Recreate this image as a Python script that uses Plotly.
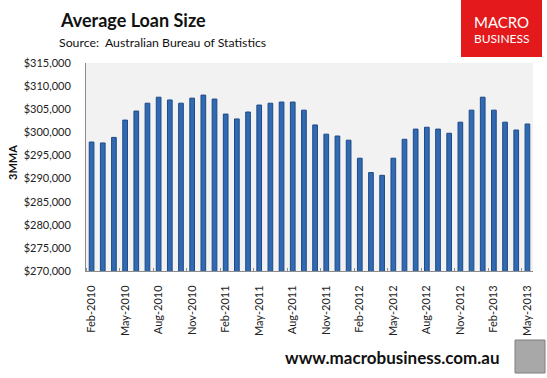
import plotly.graph_objects as go
import pandas as pd

months = [d.strftime("%b-%Y") for d in pd.date_range("2010-02-01", "2013-05-01", freq="MS")]
loan_size = [
    297900, 297700, 298900, 302650, 304600, 306300, 307600, 307000, 306300, 307400,
    308050, 307200, 303950, 302900, 304400, 305900, 306300, 306550, 306550, 304800,
    301600, 299600, 299200, 298300, 294400, 291300, 290700, 294400, 298500, 300700,
    301100, 300700, 299800, 302200, 304800, 307600, 304800, 302200, 300500, 301800,
]
y_ticks = list(range(270000, 315001, 5000))
y_tick_text = ["${:,}".format(v) for v in y_ticks]

idx = list(range(len(months)))
label_idx = idx[::3]

fig = go.Figure()
fig.add_trace(go.Bar(
    x=idx, y=loan_size,
    marker=dict(color="#3169B2", line=dict(color="#1D4A86", width=1)),
    width=0.42,
))

FONT = "Lato"
fig.update_layout(
    width=547, height=378,
    margin=dict(l=86, r=14, t=63, b=107, autoexpand=False),
    paper_bgcolor="white",
    plot_bgcolor="#F2F2F2",
    showlegend=False,
    font=dict(family=FONT, size=11, color="#222"),
    xaxis=dict(
        range=[-0.5, len(months) - 0.5],
        tickmode="array", tickvals=label_idx, ticktext=[months[i] for i in label_idx],
        tickangle=-90, ticks="", showgrid=False, zeroline=False,
        showline=True, linecolor="#8C8C8C", linewidth=1,
        ticklabelstandoff=9,
        tickfont=dict(family=FONT, size=11, color="#222"),
        minor=dict(tick0=2.5, dtick=3, ticks="inside", ticklen=3, tickcolor="#8C8C8C", showgrid=False),
    ),
    yaxis=dict(
        range=[270000, 315000], tickmode="array", tickvals=y_ticks, ticktext=y_tick_text,
        showgrid=False, zeroline=False,
        showline=True, linecolor="#8C8C8C", linewidth=1, ticks="",
        ticklabelstandoff=12,
        tickfont=dict(family=FONT, size=11, color="#222"),
    ),
)

def px(xp, yp):
    return (xp - 86) / 447, (378 - 107 - yp) / 208

x0, y1 = px(461, 0)
x1, y0 = px(542, 57)
wx0, wy1 = px(515, 340)
wx1, wy0 = px(545, 373)
fig.update_layout(shapes=[
    dict(type="rect", xref="paper", yref="paper", x0=x0, x1=x1, y0=y0, y1=y1,
         fillcolor="#E3191B", line=dict(width=0), layer="above"),
    dict(type="rect", xref="paper", yref="paper", x0=wx0, x1=wx1, y0=wy0, y1=wy1,
         fillcolor="#A8A8A8", line=dict(color="#7F7F7F", width=1), layer="above"),
])

anns = []
x, y = px(58, 20)
anns.append(dict(x=x, y=y, text="<b>Average Loan Size</b>", xanchor="left", yanchor="middle",
                 font=dict(family=FONT, size=18, color="#111")))
x, y = px(57, 43)
anns.append(dict(x=x, y=y, text="Source:  Australian Bureau of Statistics", xanchor="left", yanchor="middle",
                 font=dict(family=FONT, size=12.3, color="#111")))
x, y = px(12, 163)
anns.append(dict(x=x, y=y, text="<b>3MMA</b>", textangle=-90, xanchor="center", yanchor="middle",
                 font=dict(family=FONT, size=11, color="#111")))
x, y = px(501.5, 22)
anns.append(dict(x=x, y=y, text="MACRO", xanchor="center", yanchor="middle",
                 font=dict(family=FONT, size=15, color="white")))
x, y = px(501.5, 39)
anns.append(dict(x=x, y=y, text="BUSINESS", xanchor="center", yanchor="middle",
                 font=dict(family=FONT, size=12, color="white")))
x, y = px(502, 357)
anns.append(dict(x=x, y=y, text="<b>www.macrobusiness.com.au</b>", xanchor="right", yanchor="middle",
                 font=dict(family=FONT, size=17, color="#111")))
for a in anns:
    a.update(xref="paper", yref="paper", showarrow=False)
fig.update_layout(annotations=anns)

fig.write_html("out.html", config={"displayModeBar": False},
               post_script="document.body.style.margin='0';")
